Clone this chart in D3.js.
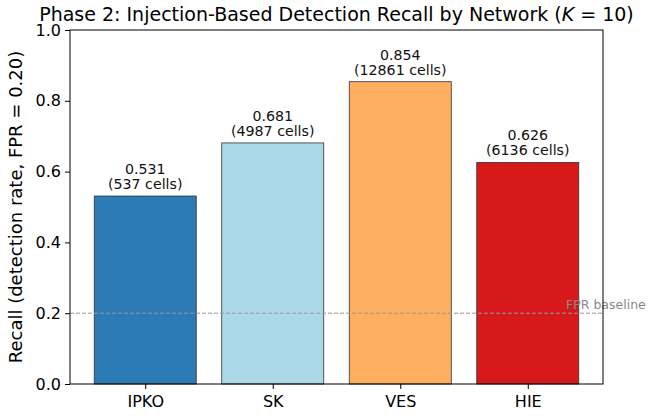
<!DOCTYPE html>
<html><head><meta charset="utf-8">
<script src="https://cdnjs.cloudflare.com/ajax/libs/d3/7.8.5/d3.min.js"></script>
<style>body{margin:0;background:#fff;}svg{display:block;font-family:"DejaVu Sans",sans-serif;}</style>
</head><body><svg id="c" width="653" height="416"></svg>
<script>
const networks = ["IPKO", "SK", "VES", "HIE"];
const recall = [0.531, 0.681, 0.854, 0.626];
const cells = [537, 4987, 12861, 6136];
const colors = ["#2c7bb6", "#abd9e9", "#fdae61", "#d7191c"];
const yTicks = [0.0, 0.2, 0.4, 0.6, 0.8, 1.0];
const fprBaseline = 0.2;

const svg = d3.select("#c");
const L = 70, R = 603, T = 30, B = 384;
const x = d3.scaleLinear().domain([-0.59, 3.59]).range([L, R]);
const y = d3.scaleLinear().domain([0, 1]).range([B, T]);
const bw = 0.8;

// bars
svg.selectAll("rect.bar").data(networks).enter().append("rect")
  .attr("x", (d,i) => x(i - bw/2))
  .attr("width", (d,i) => x(i + bw/2) - x(i - bw/2))
  .attr("y", (d,i) => y(recall[i]))
  .attr("height", (d,i) => y(0) - y(recall[i]))
  .attr("fill", (d,i) => colors[i])
  .attr("stroke", "#333").attr("stroke-width", 0.8);

// baseline
svg.append("line").attr("x1", L).attr("x2", R)
  .attr("y1", y(fprBaseline)).attr("y2", y(fprBaseline))
  .attr("stroke", "#999").attr("stroke-width", 1).attr("stroke-dasharray", "4,2");
svg.append("text").attr("x", x(3.3)).attr("y", y(fprBaseline) - 4)
  .attr("fill", "#888").attr("font-size", 12.5).text("FPR baseline");

// bar labels
networks.forEach((n,i) => {
  const t = svg.append("text").attr("text-anchor","middle").attr("font-size", 14.2).attr("fill","#111");
  t.append("tspan").attr("x", x(i)).attr("y", y(recall[i]) - 22).text(recall[i].toFixed(3));
  t.append("tspan").attr("x", x(i)).attr("y", y(recall[i]) - 7).text("(" + cells[i] + " cells)");
});

// axes
const yAxis = d3.axisLeft(y).tickValues(yTicks).tickFormat(d3.format(".1f")).tickSize(5).tickPadding(4);
const gy = svg.append("g").attr("transform", `translate(${L},0)`).call(yAxis);
const xAxis = d3.axisBottom(x).tickValues(d3.range(networks.length)).tickFormat(i => networks[i]).tickSize(5).tickPadding(4);
const gx = svg.append("g").attr("transform", `translate(0,${B})`).call(xAxis);
[gx, gy].forEach(g => {
  g.select(".domain").remove();
  g.selectAll("text").attr("font-size", 16).attr("fill", "#000").attr("font-family", "DejaVu Sans");
  g.selectAll("line").attr("stroke", "#000").attr("stroke-width", 1);
});
gx.selectAll("text").attr("dy", "0.9em");

// frame
svg.append("rect").attr("x", L).attr("y", T).attr("width", R-L).attr("height", B-T)
  .attr("fill","none").attr("stroke","#000").attr("stroke-width",1);

// title
const title = svg.append("text").attr("x", (L+R)/2).attr("y", 21).attr("text-anchor","middle").attr("font-size", 19).attr("fill","#000");
title.append("tspan").text("Phase 2: Injection-Based Detection Recall by Network (");
title.append("tspan").attr("font-style","italic").text("K");
title.append("tspan").text(" = 10)");

// y label
svg.append("text").attr("transform", `translate(22,${(T+B)/2}) rotate(-90)`)
  .attr("text-anchor","middle").attr("font-size", 18).attr("fill","#000")
  .text("Recall (detection rate, FPR = 0.20)");
</script></body></html>
